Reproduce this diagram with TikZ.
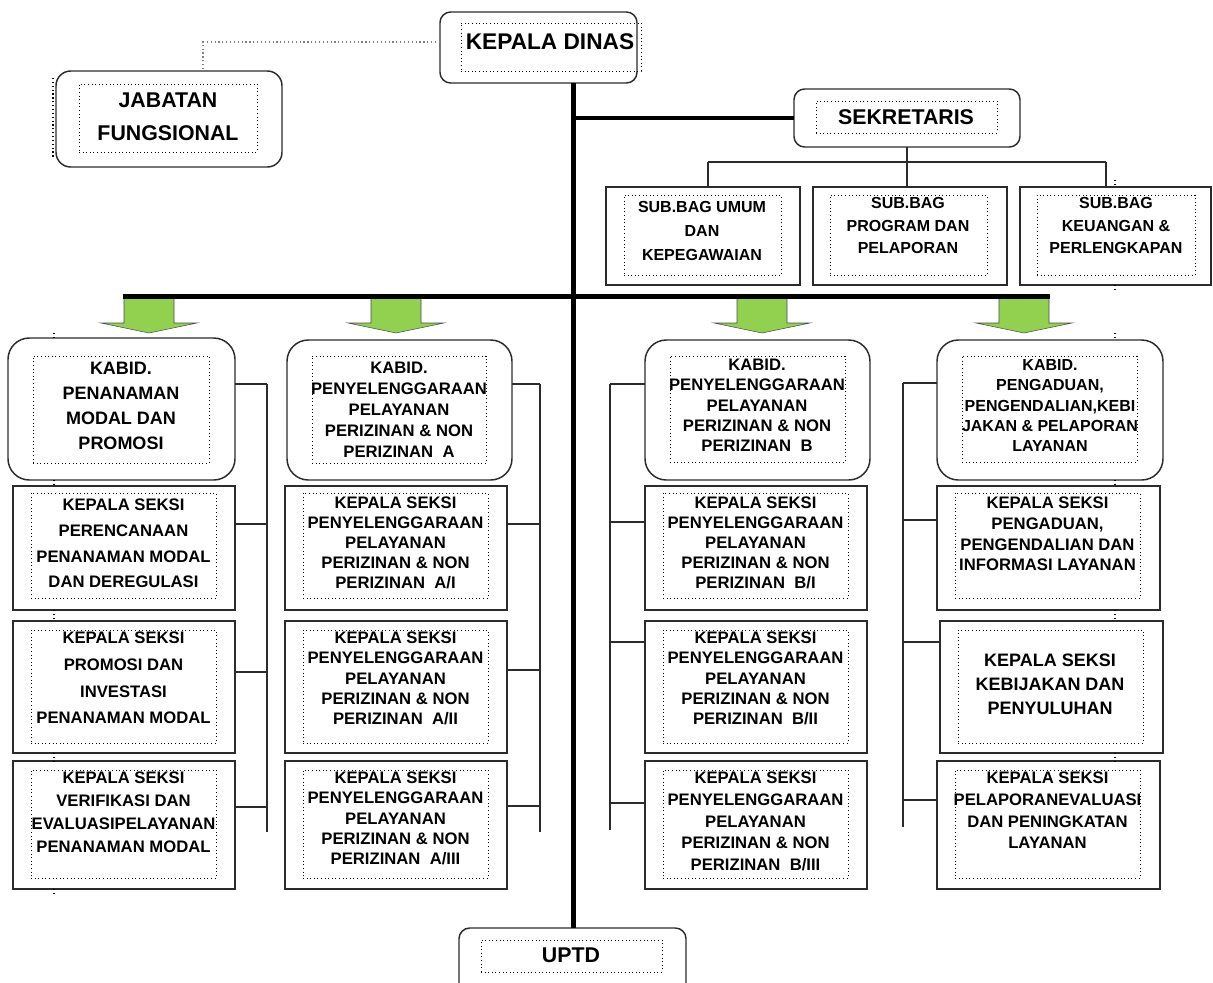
\documentclass[tikz,border=0pt]{standalone}
\usepackage{fontspec}
\setmainfont{Liberation Sans}
\usetikzlibrary{fit}
\definecolor{lc}{HTML}{2B2B2B}
\definecolor{agreen}{HTML}{92D050}
\newcommand\fz[2]{\fontsize{#1}{#2}\selectfont\bfseries}
\newcommand\grarrow[1]{\draw[garrow] ({#1-25},298) -- ({#1+25},298) -- ({#1+25},323) -- ({#1+48},323) -- (#1,333) -- ({#1-48},323) -- ({#1-25},323) -- cycle;}
\begin{document}
\begin{tikzpicture}[x=0.75pt,y=-0.75pt,
 ob/.style={draw=lc, line width=1.1pt, inner sep=0pt, outer sep=0pt},
 rb/.style={ob, rounded corners=#1},
 ib/.style={draw=black, dotted, line width=0.7pt, inner sep=0pt, outer sep=0pt},
 tx/.style={align=center, inner sep=0pt, text=black},
 conn/.style={draw=lc, line width=1.1pt},
 dconn/.style={draw=gray, dotted, line width=0.9pt},
 tick/.style={draw=black, dotted, line width=0.9pt},
 bus/.style={draw=black, line width=3.75pt},
 sbus/.style={draw=black, line width=3pt},
 garrow/.style={fill=agreen, draw=gray!60!black, line width=0.4pt}]
\useasboundingbox (0,0) rectangle (1213,982);

% ---------- top ----------
\node[rb=8pt, fit={(440,12) (637,83)}] (kd) {};
\node[ib, fit={(461,23) (641,71)}] (kdi) {};
\node[tx, font=\fz{17}{20}] (kdt) at (550,42) {KEPALA DINAS};

\node[rb=11pt, fit={(56,71) (282,167)}] (jab) {};
\node[ib, fit={(79,84) (257,152)}] (jabi) {};
\node[tx, font=\fz{16}{24.75}] (jabt) at (168,116.5) {JABATAN\\FUNGSIONAL};

\node[rb=8pt, fit={(794,89) (1020,147)}] (sek) {};
\node[ib, fit={(816,101) (997,133)}] (seki) {};
\node[tx, font=\fz{16}{20}] (sekt) at (906,117) {SEKRETARIS};

\node[ob, fit={(606,187) (800,285)}] (sub1) {};
\node[ib, fit={(624,195) (781,275)}] (sub1i) {};
\node[tx, font=\fz{12}{18}] (sub1t) at (702,231) {SUB.BAG UMUM\\DAN\\KEPEGAWAIAN};

\node[ob, fit={(813,187) (1007,285)}] (sub2) {};
\node[ib, fit={(830,195) (987,275)}] (sub2i) {};
\node[tx, font=\fz{12}{17}] (sub2t) at (908,225.5) {SUB.BAG\\PROGRAM DAN\\PELAPORAN};

\node[ob, fit={(1020,187) (1211,285)}] (sub3) {};
\node[ib, fit={(1037,195) (1195,275)}] (sub3i) {};
\node[tx, font=\fz{12}{17}] (sub3t) at (1116,225.5) {SUB.BAG\\KEUANGAN \&\\PERLENGKAPAN};

\node[rb=8pt, fit={(459,928) (686,1000)}] (uptd) {};
\node[ib, fit={(481,940) (662,972)}] (uptdi) {};
\node[tx, font=\fz{16}{20}] (uptdt) at (571,955) {UPTD};

% ---------- column 1 ----------
\node[rb=16pt, fit={(8,338) (235,480)}] (k1) {};
\node[ib, fit={(33,356) (209,463)}] (k1i) {};
\node[tx, font=\fz{13.5}{18.75}] (k1t) at (121,405.5) {KABID.\\PENANAMAN\\MODAL DAN\\PROMOSI};

\node[ob, fit={(13,486) (235,610)}] (s11) {};
\node[ib, fit={(31,493) (216,598)}] (s11i) {};
\node[tx, font=\fz{12.5}{19.25}] (s11t) at (123.5,543.5) {KEPALA SEKSI\\PERENCANAAN\\PENANAMAN MODAL\\DAN DEREGULASI};

\node[ob, fit={(13,621) (235,753)}] (s12) {};
\node[ib, fit={(31,630) (216,743)}] (s12i) {};
\node[tx, font=\fz{12.5}{20}] (s12t) at (123.5,678) {KEPALA SEKSI\\PROMOSI DAN\\INVESTASI\\PENANAMAN MODAL};

\node[ob, fit={(13,761) (235,889)}] (s13) {};
\node[ib, fit={(31,770) (216,878)}] (s13i) {};
\node[tx, font=\fz{12.5}{17.25}] (s13t) at (123.5,812.5) {KEPALA SEKSI\\VERIFIKASI DAN\\EVALUASIPELAYANAN\\PENANAMAN MODAL};

% ---------- column 2 ----------
\node[rb=16pt, fit={(287,340) (512,480)}] (k2) {};
\node[ib, fit={(312,356) (486,463)}] (k2i) {};
\node[tx, font=\fz{12.5}{15.75}] (k2t) at (399,410) {KABID.\\PENYELENGGARAAN\\PELAYANAN\\PERIZINAN \& NON\\PERIZINAN\ \ A};

\node[ob, fit={(285,486) (507,610)}] (s21) {};
\node[ib, fit={(303,493) (488,598)}] (s21i) {};
\node[tx, font=\fz{12.5}{15}] (s21t) at (395.5,543) {KEPALA SEKSI\\PENYELENGGARAAN\\PELAYANAN\\PERIZINAN \& NON\\PERIZINAN\ \ A/I};

\node[ob, fit={(285,621) (507,753)}] (s22) {};
\node[ib, fit={(303,630) (488,743)}] (s22i) {};
\node[tx, font=\fz{12.5}{15.2}] (s22t) at (395.5,678.5) {KEPALA SEKSI\\PENYELENGGARAAN\\PELAYANAN\\PERIZINAN \& NON\\PERIZINAN\ \ A/II};

\node[ob, fit={(285,761) (507,889)}] (s23) {};
\node[ib, fit={(303,770) (488,878)}] (s23i) {};
\node[tx, font=\fz{12.5}{15.2}] (s23t) at (395.5,818.5) {KEPALA SEKSI\\PENYELENGGARAAN\\PELAYANAN\\PERIZINAN \& NON\\PERIZINAN\ \ A/III};

% ---------- column 3 ----------
\node[rb=16pt, fit={(645,340) (870,480)}] (k3) {};
\node[ib, fit={(670,356) (845,462)}] (k3i) {};
\node[tx, font=\fz{12.5}{15.2}] (k3t) at (757,405.5) {KABID.\\PENYELENGGARAAN\\PELAYANAN\\PERIZINAN \& NON\\PERIZINAN\ \ B};

\node[ob, fit={(645,486) (867,610)}] (s31) {};
\node[ib, fit={(663,493) (848,598)}] (s31i) {};
\node[tx, font=\fz{12.5}{15}] (s31t) at (755.5,543) {KEPALA SEKSI\\PENYELENGGARAAN\\PELAYANAN\\PERIZINAN \& NON\\PERIZINAN\ \ B/I};

\node[ob, fit={(645,621) (867,753)}] (s32) {};
\node[ib, fit={(663,630) (848,743)}] (s32i) {};
\node[tx, font=\fz{12.5}{15.2}] (s32t) at (755.5,678.5) {KEPALA SEKSI\\PENYELENGGARAAN\\PELAYANAN\\PERIZINAN \& NON\\PERIZINAN\ \ B/II};

\node[ob, fit={(645,761) (867,889)}] (s33) {};
\node[ib, fit={(663,770) (848,878)}] (s33i) {};
\node[tx, font=\fz{12.5}{16.3}] (s33t) at (755.5,821.5) {KEPALA SEKSI\\PENYELENGGARAAN\\PELAYANAN\\PERIZINAN \& NON\\PERIZINAN\ \ B/III};

% ---------- column 4 ----------
\node[rb=16pt, fit={(937,340) (1163,480)}] (k4) {};
\node[ib, fit={(962,356) (1137,462)}] (k4i) {};
\node[tx, font=\fz{12}{15.2}] (k4t) at (1050,405.5) {KABID.\\PENGADUAN,\\PENGENDALIAN,KEBI\\JAKAN \& PELAPORAN\\LAYANAN};

\node[ob, fit={(937,486) (1160,610)}] (s41) {};
\node[ib, fit={(955,493) (1140,598)}] (s41i) {};
\node[tx, font=\fz{12.5}{15.5}] (s41t) at (1047.5,534) {KEPALA SEKSI\\PENGADUAN,\\PENGENDALIAN DAN\\INFORMASI LAYANAN};

\node[ob, fit={(940,621) (1163,753)}] (s42) {};
\node[ib, fit={(958,630) (1143,743)}] (s42i) {};
\node[tx, font=\fz{13.5}{18}] (s42t) at (1050,684) {KEPALA SEKSI\\KEBIJAKAN DAN\\PENYULUHAN};

\node[ob, fit={(937,761) (1160,889)}] (s43) {};
\node[ib, fit={(955,770) (1140,878)}] (s43i) {};
\node[tx, font=\fz{12.5}{16.25}] (s43t) at (1047.5,810.5) {KEPALA SEKSI\\PELAPORANEVALUASI\\DAN PENINGKATAN\\LAYANAN};

% ---------- connectors ----------
\coordinate (jd) at (203,42);
\draw[dconn] (kd.west |- jd) -- (jd) -- (jd |- jab.north);
\draw[tick] (53,78) -- (53,157);

\coordinate (spine) at (573,0);
\draw[bus] (kd.south -| spine) -- (uptd.north -| spine);
\draw[sbus] (spine |- sek.west) -- (sek.west);

\coordinate (sk) at (907,162);
\coordinate (h1) at (708,162);
\coordinate (h3) at (1106,162);
\draw[conn] (sek.south -| sk) -- (sk);
\draw[conn] (h1) -- (h3);
\draw[conn] (h1) -- (h1 |- sub1.north);
\draw[conn] (sk) -- (sk |- sub2.north);
\draw[conn] (h3) -- (h3 |- sub3.north);

\grarrow{149}
\grarrow{396}
\grarrow{762}
\grarrow{1024}
\coordinate (bl) at (123,296);
\coordinate (br) at (1050,296);
\draw[bus] (bl) -- (br);

% column 1 bus
\coordinate (v1t) at (267,384);
\coordinate (v1b) at (267,832);
\draw[conn] (v1t) -- (v1b);
\draw[conn] (k1.east |- v1t) -- (v1t);
\draw[conn] (s11.east |- 0,524) -- (v1t |- 0,524);
\draw[conn] (s12.east |- 0,672) -- (v1t |- 0,672);
\draw[conn] (s13.east |- 0,807) -- (v1t |- 0,807);

% column 2 bus
\coordinate (v2t) at (540,384);
\coordinate (v2b) at (540,832);
\draw[conn] (v2t) -- (v2b);
\draw[conn] (k2.east |- v2t) -- (v2t);
\draw[conn] (s21.east |- 0,524) -- (v2t |- 0,524);
\draw[conn] (s22.east |- 0,670) -- (v2t |- 0,670);
\draw[conn] (s23.east |- 0,806) -- (v2t |- 0,806);

% column 3 bus
\coordinate (v3t) at (610,384);
\coordinate (v3b) at (610,830);
\draw[conn] (v3t) -- (v3b);
\draw[conn] (k3.west |- v3t) -- (v3t);
\draw[conn] (s31.west |- 0,522) -- (v3t |- 0,522);
\draw[conn] (s32.west |- 0,642) -- (v3t |- 0,642);
\draw[conn] (s33.west |- 0,803) -- (v3t |- 0,803);

% column 4 bus
\coordinate (v4t) at (903,383);
\coordinate (v4b) at (903,827);
\draw[conn] (v4t) -- (v4b);
\draw[conn] (k4.west |- v4t) -- (v4t);
\draw[conn] (s41.west |- 0,520) -- (v4t |- 0,520);
\draw[conn] (s42.west |- 0,642) -- (v4t |- 0,642);
\draw[conn] (s43.west |- 0,800) -- (v4t |- 0,800);

% small dotted ticks
\foreach \a/\b in {333/338, 480/486, 610/621, 753/761, 889/894}
  \draw[tick] (54,\a) -- (54,\b);
\foreach \a/\b in {180/187, 285/290, 333/338, 480/486, 610/621, 753/761}
  \draw[tick] (1115,\a) -- (1115,\b);
\end{tikzpicture}
\end{document}
